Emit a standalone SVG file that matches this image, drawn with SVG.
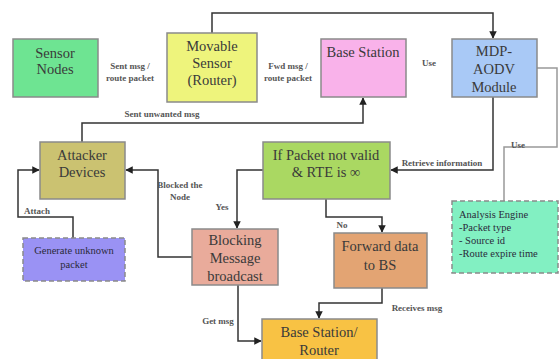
<svg xmlns="http://www.w3.org/2000/svg" width="560" height="359" viewBox="0 0 560 359">
<style>
.box{stroke:#8a8a8a;stroke-width:1.5}
.dash{stroke-dasharray:5 3}
text{font-family:"Liberation Serif","DejaVu Serif",serif}
.t{font-size:14.5px;fill:#3a3a3a;text-anchor:middle}
.s{font-size:9px;font-weight:bold;fill:#555;text-anchor:middle}
.a{font-size:10.5px;fill:#2a2a3a}
.c{fill:none;stroke:#333;stroke-width:1.5}
.g{fill:none;stroke:#999;stroke-width:1.5}
</style>
<defs>
<marker id="ar" viewBox="0 0 10 10" refX="9" refY="5" markerWidth="5" markerHeight="5" orient="auto"><path d="M0,0 L10,5 L0,10 z" fill="#222"/></marker>
</defs>
<rect width="560" height="359" fill="#fff"/>
<g id="connectors">
<polyline class="c" points="212,33 212,13 493,13 493,38" marker-end="url(#ar)"/>
<polyline class="c" points="82,142 82,123 363,123 363,98" marker-end="url(#ar)"/>
<polyline class="c" points="493,97 493,170 391,170" marker-end="url(#ar)"/>
<polyline class="g" points="537,68 557,68 557,147 504,147 504,201"/>
<polyline class="c" points="263,170 237,170 237,228" marker-end="url(#ar)"/>
<polyline class="c" points="192,257 158,257 158,170 126,170" marker-end="url(#ar)"/>
<polyline class="c" points="73,238 73,217 18,217 18,170 39,170" marker-end="url(#ar)"/>
<polyline class="c" points="238,285 238,341 261,341" marker-end="url(#ar)"/>
<polyline class="c" points="326,199 326,217 382,217 382,232" marker-end="url(#ar)"/>
<polyline class="c" points="382,288 382,303 319,303 319,318" marker-end="url(#ar)"/>
<text class="s" x="130" y="69">Sent msg /</text>
<text class="s" x="130" y="81">route packet</text>
<text class="s" x="288" y="69">Fwd msg /</text>
<text class="s" x="288" y="81">route packet</text>
<text class="s" x="429" y="66">Use</text>
<text class="s" x="162" y="117">Sent unwanted msg</text>
<text class="s" x="442" y="166">Retrieve information</text>
<text class="s" x="518" y="148">Use</text>
<text class="s" x="180" y="188">Blocked the</text>
<text class="s" x="180" y="200">Node</text>
<text class="s" x="222" y="210">Yes</text>
<text class="s" x="37" y="214">Attach</text>
<text class="s" x="342" y="228">No</text>
<text class="s" x="417" y="311">Receives msg</text>
<text class="s" x="218" y="324">Get msg</text>
</g>
<g id="sensor-nodes"><rect class="box" x="13" y="39" width="85" height="58" fill="#6ee492"/><text class="t" x="55" y="58">Sensor</text><text class="t" x="55" y="74">Nodes</text></g>
<g id="movable-sensor"><rect class="box" x="167" y="33" width="90" height="69" fill="#eef47c"/><text class="t" x="212" y="51">Movable</text><text class="t" x="212" y="68">Sensor</text><text class="t" x="212" y="85">(Router)</text></g>
<g id="base-station"><rect class="box" x="321" y="39" width="85" height="58" fill="#f9b2ea"/><text class="t" x="363" y="57">Base Station</text></g>
<g id="mdp-aodv"><rect class="box" x="452" y="39" width="85" height="58" fill="#a9c9f6"/><text class="t" x="494" y="56">MDP-</text><text class="t" x="494" y="74">AODV</text><text class="t" x="494" y="92">Module</text></g>
<g id="attacker"><rect class="box" x="40" y="142" width="85" height="57" fill="#cbc271"/><text class="t" x="82" y="160">Attacker</text><text class="t" x="82" y="177">Devices</text></g>
<g id="if-packet"><rect class="box" x="263" y="142" width="127" height="57" fill="#aad862"/><text class="t" x="326" y="160">If Packet not valid</text><text class="t" x="326" y="177">&amp; RTE is ∞</text></g>
<g id="generate"><rect class="box dash" x="23" y="238" width="102" height="43" fill="#9a92f4" stroke="#6a6a9a"/><text class="a" x="74" y="254" text-anchor="middle">Generate unknown</text><text class="a" x="74" y="268" text-anchor="middle">packet</text></g>
<g id="blocking"><rect class="box" x="192" y="229" width="86" height="56" fill="#e9ab9b"/><text class="t" x="235" y="245">Blocking</text><text class="t" x="235" y="263">Message</text><text class="t" x="235" y="281">broadcast</text></g>
<g id="forward"><rect class="box" x="334" y="233" width="93" height="55" fill="#e3a473"/><text class="t" x="380" y="251">Forward data</text><text class="t" x="380" y="270">to BS</text></g>
<g id="analysis"><rect class="box dash" x="452" y="201" width="106" height="72" fill="#82f0c2"/><text class="a" x="459" y="218">Analysis Engine</text><text class="a" x="459" y="231">-Packet type</text><text class="a" x="459" y="244">- Source id</text><text class="a" x="459" y="257">-Route expire time</text></g>
<g id="bs-router"><rect class="box" x="262" y="319" width="115" height="45" fill="#f8c244"/><text class="t" x="319" y="337">Base Station/</text><text class="t" x="319" y="355">Router</text></g>
</svg>
